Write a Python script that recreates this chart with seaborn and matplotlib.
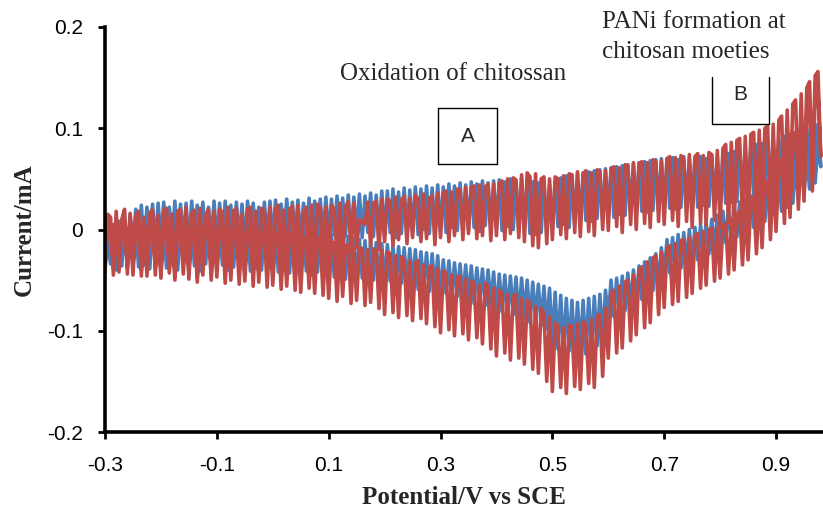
import numpy as np
import pandas as pd
import seaborn as sns
import matplotlib
matplotlib.use("Agg")
import matplotlib.pyplot as plt
from matplotlib.lines import Line2D

# Scan potentials (V vs SCE), 0.005 V steps from -0.30 to 0.98
E_START, E_VERTEX, E_STEP = -0.30, 0.98, 0.005
potential = np.round(np.arange(E_START, E_VERTEX + E_STEP / 2, E_STEP), 3)

# Currents in units of 1e-3 mA, listed in increasing potential (20 values per 0.1 V)
blue_forward = [
    -35, -5, -30, 2, -28, 8, -25, 12, -22, 15, -20, 20, -18, 24, -22, 22, -15, 25, -18, 26,
    -12, 27, -15, 22, -10, 28, -18, 25, -12, 26, -20, 28, -8, 24, -14, 27, -16, 22, -10, 28,
    -14, 26, -12, 28, -18, 24, -9, 27, -13, 25, -16, 28, -10, 26, -12, 22, -15, 27, -11, 28,
    -10, 29, -14, 25, -8, 30, -12, 27, -6, 29, -11, 26, -9, 31, -13, 28, -7, 30, -10, 32,
    -8, 30, -5, 33, -10, 31, -6, 34, -9, 32, -4, 35, -8, 33, -3, 36, -7, 34, -5, 38,
    -6, 38, -3, 40, -8, 37, -4, 41, -6, 39, -2, 42, -5, 40, 0, 43, -4, 41, -2, 44,
    0, 42, -3, 45, 2, 43, -1, 46, 3, 44, 0, 47, 2, 45, -2, 48, 4, 46, 1, 48,
    2, 49, -1, 47, 3, 50, 0, 48, -2, 51, 1, 49, -4, 47, -5, 46, -3, 45, -4, 44,
    0, 48, 3, 51, 5, 53, 2, 54, 7, 55, 6, 56, 9, 57, 8, 58, 11, 59, 10, 60,
    13, 61, 12, 62, 15, 63, 14, 64, 17, 65, 16, 66, 18, 67, 17, 68, 19, 69, 20, 70,
    19, 70, 21, 71, 20, 69, 22, 72, 21, 70, 23, 71, 22, 72, 24, 70, 23, 73, 25, 72,
    24, 73, 26, 75, 27, 77, 28, 79, 30, 80, 31, 82, 33, 84, 34, 85, 36, 87, 37, 88,
    36, 90, 38, 92, 40, 94, 42, 96, 45, 98, 48, 100, 52, 102, 56, 104, 62,
]
blue_reverse = [
    -38, 0, -34, 5, -40, 8, -36, 3, -38, 10, -33, 6, -37, 9, -35, 4, -39, 8, -34, 12,
    -36, 7, -38, 4, -33, 9, -40, 5, -35, 10, -38, 3, -36, 8, -41, 6, -34, 9, -37, 5,
    -38, 6, -35, 8, -40, 3, -37, 7, -39, 4, -36, 6, -41, 2, -38, 5, -40, 3, -37, 2,
    -40, 3, -42, 0, -38, 2, -43, -1, -40, 1, -44, -2, -41, 0, -45, -3, -42, -1, -46, -4,
    -44, -5, -47, -6, -45, -8, -49, -7, -46, -9, -50, -10, -48, -11, -52, -12, -50, -13, -53, -14,
    -54, -15, -51, -16, -55, -17, -53, -18, -57, -19, -55, -20, -59, -22, -57, -23, -61, -24, -60, -26,
    -66, -30, -63, -31, -68, -33, -66, -34, -70, -35, -68, -36, -73, -38, -71, -39, -75, -40, -74, -42,
    -84, -44, -81, -45, -86, -46, -84, -47, -89, -48, -87, -50, -92, -52, -90, -54, -95, -56, -98, -58,
    -112, -62, -118, -65, -122, -68, -120, -70, -124, -72, -121, -70, -123, -68, -119, -66, -115, -64, -110, -60,
    -88, -50, -86, -48, -83, -46, -80, -43, -77, -40, -73, -36, -69, -32, -65, -28, -60, -24, -54, -18,
    -46, -10, -43, -8, -40, -5, -38, -3, -35, 0, -32, 2, -30, 5, -27, 8, -24, 10, -20, 14,
    -16, 18, -13, 21, -10, 24, -7, 27, -4, 30, -1, 33, 2, 36, 5, 40, 8, 44, 12, 48,
    15, 52, 18, 56, 22, 60, 26, 64, 30, 68, 35, 74, 40, 80, 46, 88, 62,
]
red_forward = [
    -42, 15, 12, -45, 18, -30, 10, 20, -44, 16, -36, 14, 18, -46, 12, -40, 16, 20, -45, 14,
    -44, 19, 21, -38, 15, -46, 18, 20, -33, 22, -42, 16, 19, -47, 21, -36, 14, 20, -43, 18,
    -37, 20, 17, -44, 22, -40, 18, 21, -32, 15, -45, 20, 22, -38, 18, -43, 21, 17, -35, 22,
    -41, 21, 24, -38, 19, -44, 20, 23, -34, 24, -40, 18, 22, -33, 24, -41, 25, 21, -37, 22,
    -32, 24, 20, -28, 26, -34, 22, 28, -22, 26, -18, 10, 8, 5, 27, -16, 26, 28, -20, 30,
    -12, 30, 28, -16, 32, -10, 29, 33, -14, 31, -8, 34, 30, -12, 35, -9, 31, 33, -15, 36,
    -8, 36, 38, -12, 37, -6, 40, 39, -10, 42, -4, 41, 43, -9, 44, -6, 42, 45, -11, 45,
    -6, 46, 48, -10, 50, -4, 51, 49, -8, 54, -12, 56, 52, -16, 55, -18, 50, 52, -14, 50,
    -10, 52, 50, -5, 53, -9, 55, 54, -3, 57, -7, 55, 58, -2, 56, -6, 59, 57, 0, 58,
    -1, 60, 62, 3, 61, -3, 64, 63, 5, 66, 0, 65, 67, 6, 66, 2, 69, 67, 8, 68,
    5, 70, 72, 9, 71, 3, 73, 70, 8, 74, 2, 72, 75, 6, 73, 4, 76, 74, 9, 78,
    2, 80, 84, 6, 86, 0, 88, 90, 8, 92, 4, 94, 96, 10, 98, 8, 100, 102, 14, 104,
    20, 108, 112, 26, 118, 30, 124, 128, 36, 134, 42, 140, 146, 50, 152, 156, 72,
]
red_reverse = [
    -34, 8, 4, -38, 10, -42, 2, 7, -36, 9, -45, 3, 6, -40, 8, -46, 1, 5, -38, 6,
    -48, 5, 8, -43, 2, -50, 6, 4, -44, 7, -49, 0, 3, -52, 4, -45, 7, 1, -50, 3,
    -47, 2, -1, -53, 3, -50, 0, -3, -54, 1, -51, -2, 0, -56, -1, -52, -4, -2, -57, -3,
    -55, -5, -3, -59, -6, -56, -4, -8, -60, -6, -62, -9, -7, -58, -10, -63, -8, -11, -65, -10,
    -68, -12, -14, -71, -13, -66, -16, -15, -73, -17, -70, -18, -19, -75, -20, -72, -19, -21, -78, -21,
    -84, -22, -24, -82, -26, -87, -27, -29, -85, -31, -90, -33, -31, -88, -35, -93, -37, -36, -96, -39,
    -102, -41, -43, -99, -45, -105, -47, -46, -103, -49, -109, -51, -53, -107, -55, -113, -53, -57, -118, -58,
    -125, -60, -62, -122, -64, -129, -66, -64, -127, -68, -133, -70, -72, -138, -76, -142, -78, -82, -150, -86,
    -160, -92, -95, -156, -97, -162, -94, -96, -155, -93, -158, -91, -94, -152, -89, -156, -86, -84, -145, -78,
    -127, -64, -60, -122, -56, -117, -52, -50, -110, -45, -104, -40, -37, -97, -32, -92, -28, -26, -84, -22,
    -77, -18, -16, -74, -14, -71, -11, -10, -67, -8, -63, -6, -4, -58, -2, -55, 0, 1, -51, 2,
    -48, 4, 6, -44, 10, -40, 14, 18, -35, 22, -30, 28, 32, -24, 38, -18, 44, 48, -10, 54,
    -2, 62, 70, 6, 80, 12, 88, 96, 20, 104, 28, 114, 124, 38, 132, 136, 72,
]

x_ticks = [-0.3, -0.1, 0.1, 0.3, 0.5, 0.7, 0.9]
x_tick_labels = ["-0.3", "-0.1", "0.1", "0.3", "0.5", "0.7", "0.9"]
y_ticks = [-0.2, -0.1, 0.0, 0.1, 0.2]
y_tick_labels = ["-0.2", "-0.1", "0", "0.1", "0.2"]

frames = []
for name, fwd, rev in [("blue", blue_forward, blue_reverse),
                       ("red", red_forward, red_reverse)]:
    E = np.concatenate([potential, potential[::-1]])
    I = np.concatenate([np.array(fwd), np.array(rev)[::-1]]) / 1000.0
    frames.append(pd.DataFrame({"E": E, "I": I, "series": name}))
df = pd.concat(frames, ignore_index=True)

sns.set_theme(style="white")
plt.rcParams["font.family"] = ["Liberation Sans", "DejaVu Sans"]

fig = plt.figure(figsize=(8.23, 5.12), dpi=100)
ax = fig.add_axes([105 / 823, 1 - 432 / 512, 1 - 105 / 823, (432 - 27) / 512])

sns.lineplot(data=df, x="E", y="I", hue="series", sort=False, estimator=None,
             units="series", palette={"blue": "#4A7EBB", "red": "#BE4B48"},
             linewidth=2.6, legend=False, ax=ax)

ax.set_xlim(-0.3, 0.984)
ax.set_ylim(-0.2, 0.2)
ax.set_xticks(x_ticks)
ax.set_xticklabels(x_tick_labels)
ax.set_yticks(y_ticks)
ax.set_yticklabels(y_tick_labels)
ax.tick_params(axis="both", direction="out", length=5, width=2, colors="black",
               labelsize=15, bottom=True, left=True)
ax.tick_params(axis="y", pad=11)
ax.tick_params(axis="x", pad=12)
for s in ["top", "right"]:
    ax.spines[s].set_visible(False)
for s in ["left", "bottom"]:
    ax.spines[s].set_linewidth(2.6)
    ax.spines[s].set_color("black")
ax.grid(False)

ax.set_xlabel("Potential/V vs SCE", fontfamily="Liberation Serif",
              fontweight="bold", fontsize=18, labelpad=8)
ax.set_ylabel("Current/mA", fontfamily="Liberation Serif",
              fontweight="bold", fontsize=18, labelpad=8)

def fx(px):
    return px / 823

def fy(py):
    return 1 - py / 512

fig.text(fx(340), fy(74), "Oxidation of chitossan", fontfamily="Liberation Serif",
         fontsize=18, va="center", ha="left")
fig.text(fx(602), fy(22), "PANi formation at", fontfamily="Liberation Serif",
         fontsize=18, va="center", ha="left")
fig.text(fx(602), fy(52), "chitosan moeties", fontfamily="Liberation Serif",
         fontsize=18, va="center", ha="left")

# Box A
xa0, xa1, ya0, ya1 = fx(438), fx(497), fy(108), fy(164)
fig.add_artist(Line2D([xa0, xa1, xa1, xa0, xa0], [ya0, ya0, ya1, ya1, ya0],
                      color="black", lw=1.0, transform=fig.transFigure))
fig.text((xa0 + xa1) / 2, fy(136), "A", fontsize=15, ha="center", va="center")
# Box B (open top)
xb0, xb1, yb0, yb1 = fx(712), fx(769), fy(77), fy(124)
fig.add_artist(Line2D([xb0, xb0, xb1, xb1], [yb0, yb1, yb1, yb0],
                      color="black", lw=1.0, transform=fig.transFigure))
fig.text((xb0 + xb1) / 2, fy(94), "B", fontsize=15, ha="center", va="center")

fig.savefig("out.png", dpi=100)
